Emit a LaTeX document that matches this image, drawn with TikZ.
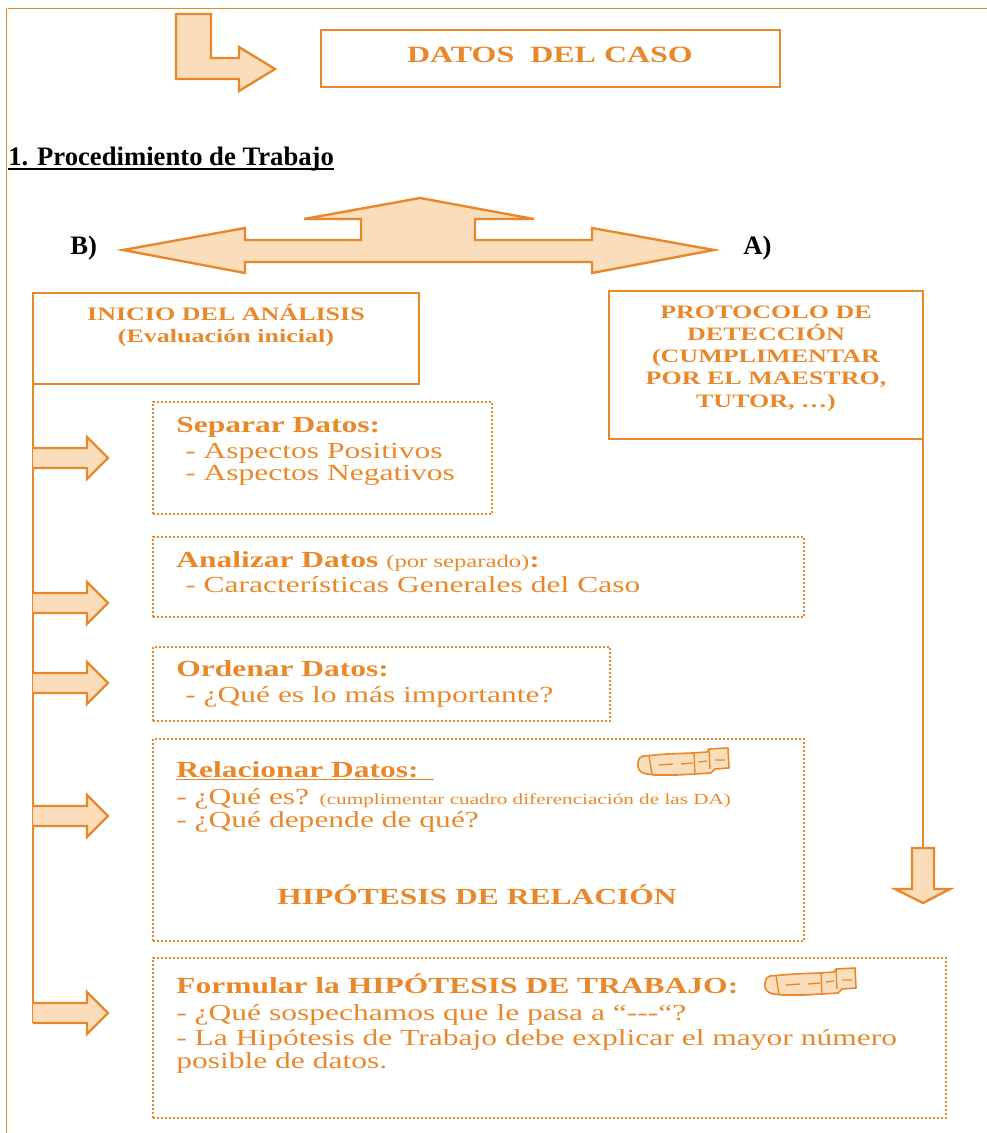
\documentclass[tikz,border=0pt]{standalone}
\usepackage{fontspec}
\setmainfont{Liberation Serif}
\newfontfamily\naranjafont[FakeStretch=1.37]{Liberation Serif}
\newcommand\chico{\mdseries\fontsize{13.5pt}{15pt}\selectfont}
\newcommand\diminuto{\mdseries\fontsize{11.6pt}{13pt}\selectfont}
\definecolor{naranja}{RGB}{233,136,43}
\definecolor{melocoton}{RGB}{250,221,187}
\tikzset{
  caja/.style={draw=naranja, line width=1.8pt, rectangle, inner sep=0pt, outer sep=0pt, anchor=north west},
  punteada/.style={caja, line width=1.5pt, dash pattern=on 1.5pt off 1.5pt},
  enlace/.style={draw=naranja, line width=2pt},
  flecha/.style={draw=naranja, fill=melocoton, line width=1.8pt, line join=miter},
  texto/.style={inner sep=0pt, anchor=base west, text=naranja, font=\naranjafont\fontsize{17.25pt}{20pt}\selectfont},
  titulo/.style={texto, font=\naranjafont\bfseries\fontsize{17.25pt}{20pt}\selectfont},
  rotulo/.style={texto, anchor=base, font=\naranjafont\bfseries\fontsize{14.25pt}{16pt}\selectfont},
  negro/.style={inner sep=0pt, anchor=base west, font=\bfseries\fontsize{20pt}{24pt}\selectfont},
  pics/derecha/.style={code={
    \draw[flecha] (0,-10) -- (54,-10) -- (54,-21) -- (75,0) -- (54,21) -- (54,10) -- (0,10);}},
  pics/abajo/.style={code={
    \draw[flecha] (-11,0) -- (11,0) -- (11,41) -- (27,41) -- (0,55) -- (-28,41) -- (-11,41) -- cycle;}},
  pics/libro/.style={code={
    \draw[naranja, fill=melocoton, line width=1.2pt, line join=round]
      (6,8) -- (30,6) -- (55,5) -- (70,4) -- (72,1) -- (91,0) -- (92,20) -- (78,21) -- (74,25)
      -- (40,27) -- (18,27) -- (10,26) .. controls (2,25) and (0,20) .. (1,15)
      .. controls (2,10) .. (6,8) -- cycle;
    \draw[naranja, line width=1pt] (12,8) -- (15,26) (22,17) -- (36,16) (44,16) -- (56,15)
      (57,5) -- (58,25) (62,14) -- (70,13) (72,1) -- (73,21) (78,12) -- (88,12);}},
}
\begin{document}
\begin{tikzpicture}[x=0.75pt, y=-0.75pt]
\useasboundingbox (0,0) rectangle (987,1133);
% marco de la pagina
\draw[naranja, line width=0.75pt] (8,8) -- (987,8);
\draw[naranja, line width=0.75pt] (6,8) -- (6,1133);

% cabecera
\draw[flecha] (176,14) -- (211,14) -- (211,58) -- (239,58) -- (239,47) -- (275,69)
  -- (239,91) -- (239,79) -- (176,79) -- cycle;
\node[caja, minimum width=344.25pt, minimum height=42.75pt] (caso) at (321,30) {};
\node[titulo, anchor=base, font=\naranjafont\bfseries\fontsize{17.5pt}{20pt}\selectfont] (casotxt) at (550,62) {DATOS\ \ DEL CASO};

\node[negro] (proc) at (8,165) {1. Procedimiento de Trabajo};
\draw[line width=1.5pt] ([yshift=-3pt]proc.base west) -- ([yshift=-3pt]proc.base east);

% flecha doble
\draw[flecha] (123,250) -- (245,228) -- (245,240) -- (361,240) -- (361,219) -- (304,219)
  -- (420,198) -- (534,219) -- (475,219) -- (475,240) -- (592,240) -- (592,228)
  -- (714,250) -- (592,273) -- (592,262) -- (245,262) -- (245,273) -- cycle;
\node[negro] (b) at (70,254) {B)};
\node[negro] (a) at (743,254) {A)};

% cajas superiores
\node[caja, minimum width=289.5pt, minimum height=68.25pt] (inicio) at (33,293) {};
\node[rotulo] (iniciotxt) at (226,320) {INICIO DEL ANÁLISIS};
\node[rotulo] (evaltxt) at (226,342) {(Evaluación inicial)};

\node[caja, line width=2.2pt, minimum width=235.5pt, minimum height=111pt] (proto) at (609,291) {};
\foreach \t [count=\i from 0] in {{PROTOCOLO DE}, {DETECCIÓN}, {(CUMPLIMENTAR}, {POR EL MAESTRO,}, {TUTOR, \ldots)}}
  \node[rotulo] (proto\i) at (766,318+22.25*\i) {\t};

% lineas y flechas
\coordinate (finizq) at (33,1023);
\draw[enlace] (inicio.south west) -- (finizq);
\foreach \y in {458,603,683,816,1013}
  \pic at (33,\y) {derecha};
\coordinate (finder) at (923,848);
\draw[enlace] (proto.south east) -- (finder);
\pic at (finder) {abajo};

% pasos
\node[punteada, minimum width=254.25pt, minimum height=84pt] (separar) at (153,402) {};
\node[titulo] (sep1) at (176,432) {Separar Datos:};
\node[texto] (sep2) at (185,458) {- Aspectos Positivos};
\node[texto] (sep3) at (185,480) {- Aspectos Negativos};

\node[punteada, minimum width=488.25pt, minimum height=60pt] (analizar) at (153,537) {};
\node[titulo] (ana1) at (176,567) {Analizar Datos {\chico(por separado)}:};
\node[texto] (ana2) at (185,592) {- Características Generales del Caso};

\node[punteada, minimum width=342.75pt, minimum height=55.5pt] (ordenar) at (153,647) {};
\node[titulo] (ord1) at (176,676) {Ordenar Datos:};
\node[texto] (ord2) at (185,702) {- ¿Qué es lo más importante?};

\node[punteada, minimum width=488.25pt, minimum height=151.5pt] (relacionar) at (153,739) {};
\node[titulo] (rel1) at (176,777) {Relacionar Datos:};
\draw[naranja, line width=1.1pt] ([yshift=-2pt]rel1.base west) -- ([xshift=11pt, yshift=-2pt]rel1.base east);
\pic at (637,748) {libro};
\node[texto] (rel2) at (176,804) {- ¿Qué es? {\diminuto(cumplimentar cuadro diferenciación de las DA)}};
\node[texto] (rel3) at (176,827) {- ¿Qué depende de qué?};
\node[titulo, anchor=base] (rel4) at (477,904) {HIPÓTESIS DE RELACIÓN};

\node[punteada, minimum width=594.75pt, minimum height=120pt] (formular) at (153,958) {};
\node[titulo] (for1) at (176,993) {Formular la HIPÓTESIS DE TRABAJO:};
\pic at (764,968) {libro};
\node[texto] (for2) at (176,1020) {- ¿Qué sospechamos que le pasa a “-{}-{}-“?};
\node[texto] (for3) at (176,1045) {- La Hipótesis de Trabajo debe explicar el mayor número};
\node[texto] (for4) at (176,1068) {posible de datos.};
\end{tikzpicture}
\end{document}
